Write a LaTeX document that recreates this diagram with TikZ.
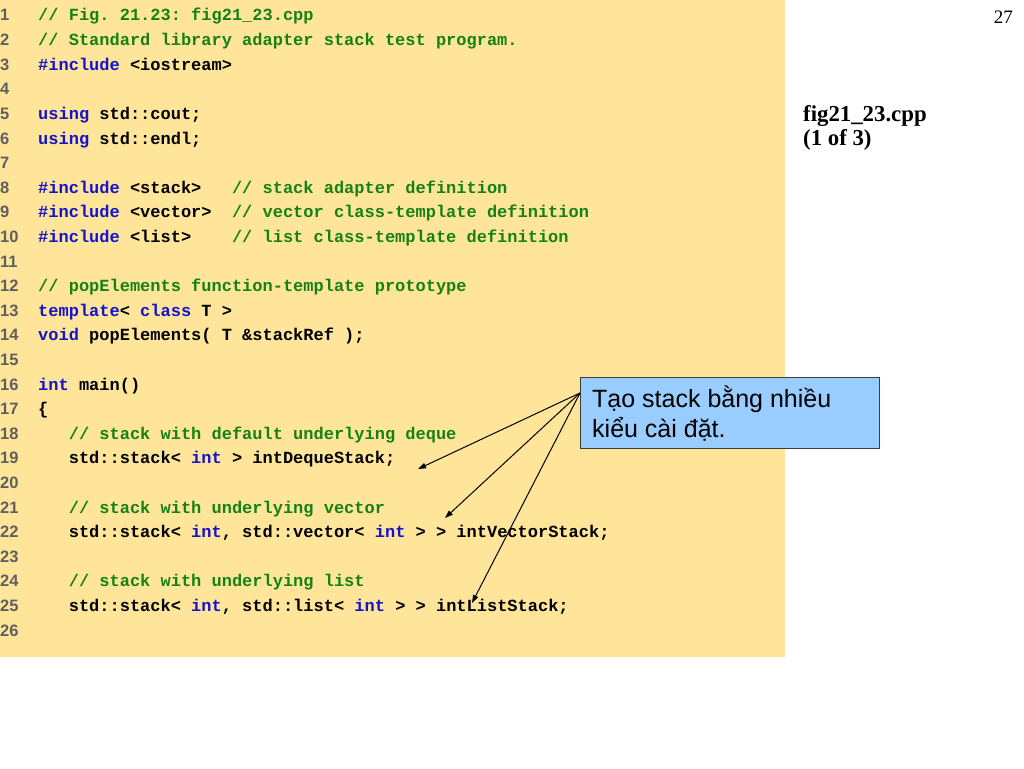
\documentclass[tikz,border=0pt]{standalone}
\usepackage{fontspec}
\setmainfont{Liberation Serif}
\newfontfamily\codefont{Liberation Mono}
\newfontfamily\numfont{Liberation Sans}
\newfontfamily\callfont{Liberation Sans}
\usetikzlibrary{arrows.meta}
\frenchspacing
\definecolor{codebg}{RGB}{255,229,153}
\definecolor{cgreen}{RGB}{20,130,20}
\definecolor{cblue}{RGB}{20,20,205}
\definecolor{lnum}{RGB}{95,95,95}
\definecolor{callbg}{RGB}{153,204,255}
\definecolor{callborder}{RGB}{60,60,60}
\newcommand\cmt[1]{\textcolor{cgreen}{#1}}
\newcommand\kw[1]{\textcolor{cblue}{#1}}
\tikzset{
  codeline/.style={anchor=base west, inner sep=0pt, font=\codefont\bfseries\fontsize{17}{20}\selectfont},
  lnumstyle/.style={anchor=base west, inner sep=0pt, text=lnum, font=\numfont\bfseries\fontsize{16.5}{19}\selectfont},
  calloutbox/.style={draw=callborder, line width=1pt, fill=callbg, anchor=north west, inner sep=0pt, minimum width=299pt, minimum height=71pt},
  callouttext/.style={anchor=base west, inner sep=0pt, font=\callfont\fontsize{25}{30}\selectfont},
  arr/.style={line width=1pt, -{Triangle[length=8pt,width=5.5pt]}},
  sidelabel/.style={anchor=base west, inner sep=0pt, font=\bfseries\fontsize{22.8}{27}\selectfont},
}
\begin{document}
\begin{tikzpicture}[x=1pt,y=-1pt]
\useasboundingbox (0,0) rectangle (1024,768);
\fill[codebg] (0,0) rectangle (785,657);
\foreach \n in {1,...,26} {
  \node[lnumstyle] (n\n) at (0,{21+(\n-1)*24.6}) {\n};
}
\node[codeline] (c1) at (38,21.0) {\cmt{// Fig. 21.23: fig21\_23.cpp}};
\node[codeline] (c2) at (38,45.6) {\cmt{// Standard library adapter stack test program.}};
\node[codeline] (c3) at (38,70.2) {\kw{\#include} <iostream>};
\node[codeline] (c5) at (38,119.4) {\kw{using} std::cout;};
\node[codeline] (c6) at (38,144.0) {\kw{using} std::endl;};
\node[codeline] (c8) at (38,193.2) {\kw{\#include} <stack>~~~\cmt{// stack adapter definition}};
\node[codeline] (c9) at (38,217.8) {\kw{\#include} <vector>~~\cmt{// vector class-template definition}};
\node[codeline] (c10) at (38,242.4) {\kw{\#include} <list>~~~~\cmt{// list class-template definition}};
\node[codeline] (c12) at (38,291.6) {\cmt{// popElements function-template prototype}};
\node[codeline] (c13) at (38,316.2) {\kw{template}< \kw{class} T >};
\node[codeline] (c14) at (38,340.8) {\kw{void} popElements( T \&stackRef );};
\node[codeline] (c16) at (38,390.0) {\kw{int} main()};
\node[codeline] (c17) at (38,414.6) {\{};
\node[codeline] (c18) at (38,439.2) {~~~\cmt{// stack with default underlying deque}};
\node[codeline] (c19) at (38,463.8) {~~~std::stack< \kw{int} > intDequeStack;};
\node[codeline] (c21) at (38,513.0) {~~~\cmt{// stack with underlying vector}};
\node[codeline] (c22) at (38,537.6) {~~~std::stack< \kw{int}, std::vector< \kw{int} > > intVectorStack;};
\node[codeline] (c24) at (38,586.8) {~~~\cmt{// stack with underlying list}};
\node[codeline] (c25) at (38,611.4) {~~~std::stack< \kw{int}, std::list< \kw{int} > > intListStack;};

\node[anchor=base east, inner sep=0pt, font=\fontsize{19}{23}\selectfont] (pg) at (1013,24) {27};
\node[sidelabel] (fn) at (803,121) {fig21\_23.cpp};
\node[sidelabel] (part) at (803,145) {(1 of 3)};

\node[calloutbox] (call) at (580,377) {};
\node[callouttext] (t1) at (592,407) {Tạo stack bằng nhiều};
\node[callouttext] (t2) at (592,437) {kiểu cài đặt.};

\coordinate (src) at (580,393);
\coordinate (e1) at (418,469);
\coordinate (e2) at (445,518);
\coordinate (e3) at (472,603);
\draw[arr] (src) -- (e1);
\draw[arr] (src) -- (e2);
\draw[arr] (src) -- (e3);
\end{tikzpicture}
\end{document}
